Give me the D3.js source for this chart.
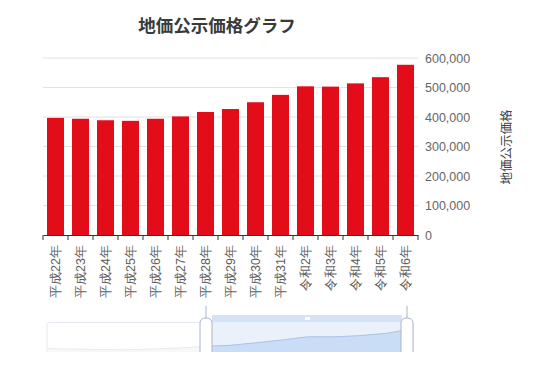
<!DOCTYPE html>
<html>
<head>
<meta charset="utf-8">
<script src="https://cdn.jsdelivr.net/npm/d3@7"></script>
<style>
  body { margin: 0; background: #fff; }
  svg { display: block; font-family: "Noto Sans CJK JP", "Noto Sans", sans-serif; }
</style>
</head>
<body>
<svg id="chart"></svg>
<script>
// データ
const years = ['平成22年','平成23年','平成24年','平成25年','平成26年','平成27年','平成28年','平成29年',
  '平成30年','平成31年','令和2年','令和3年','令和4年','令和5年','令和6年'];
const prices = [397000, 394000, 389000, 387000, 394000, 402000, 417000, 427000,
  450000, 475000, 504000, 503000, 514000, 535000, 577000];
const yTicks = [0, 100000, 200000, 300000, 400000, 500000, 600000];

const width = 539, height = 381;
const plotL = 43, plotR = 418, plotT = 58, plotB = 235;

const svg = d3.select('#chart').attr('width', width).attr('height', height);

// タイトル
svg.append('text')
  .attr('x', 217).attr('y', 32)
  .attr('text-anchor', 'middle')
  .attr('font-size', 17.5).attr('font-weight', 'bold')
  .attr('fill', '#3a3a3a')
  .text('地価公示価格グラフ');

const x = d3.scaleBand().domain(years).range([plotL, plotR])
  .paddingInner(0.32).paddingOuter(0.16);
const y = d3.scaleLinear().domain([0, 600000]).range([plotB, plotT]);

// グリッド
svg.append('g').selectAll('line')
  .data(yTicks.slice(1))
  .join('line')
  .attr('x1', plotL).attr('x2', plotR)
  .attr('y1', d => y(d)).attr('y2', d => y(d))
  .attr('stroke', '#e2e2e2').attr('stroke-width', 1);

// 棒
svg.append('g').selectAll('rect')
  .data(prices)
  .join('rect')
  .attr('x', (d, i) => x(years[i]))
  .attr('y', d => y(d))
  .attr('width', x.bandwidth())
  .attr('height', d => plotB - y(d))
  .attr('fill', '#e30d19');

// Y軸（右）
const yAxis = d3.axisRight(y).tickValues(yTicks).tickSize(0).tickPadding(7)
  .tickFormat(d3.format(','));
const gy = svg.append('g').attr('transform', `translate(${plotR},0)`).call(yAxis);
gy.select('.domain').remove();
gy.selectAll('text').attr('font-size', 12.5).attr('fill', '#666')
  .attr('font-family', '"Liberation Sans", Arial, sans-serif');

svg.append('text')
  .attr('transform', 'translate(511,147) rotate(-90)')
  .attr('text-anchor', 'middle')
  .attr('font-size', 12.5).attr('fill', '#444')
  .text('地価公示価格');

// X軸
const xAxis = d3.axisBottom(x).tickSize(0).tickPadding(0);
const gx = svg.append('g').attr('transform', `translate(0,${plotB})`).call(xAxis);
gx.select('.domain').attr('stroke', '#333');
gx.selectAll('text')
  .attr('transform', 'translate(0,10) rotate(-90)')
  .attr('text-anchor', 'end')
  .attr('dy', '0.35em').attr('x', 0).attr('y', 0)
  .attr('font-size', 12.5).attr('fill', '#606060');
// 区切り目盛り
const step = x.step();
const bounds = years.map(d => x(d) - step * x.paddingInner() / 2).concat([plotR]);
gx.append('g').selectAll('line')
  .data(bounds)
  .join('line')
  .attr('x1', d => d).attr('x2', d => d)
  .attr('y1', 0).attr('y2', 5)
  .attr('stroke', '#333');

// データズーム（下部、切れている）
svg.append('clipPath').attr('id', 'cut')
  .append('rect').attr('x', 0).attr('y', 300).attr('width', width).attr('height', 52);
const dz = svg.append('g').attr('clip-path', 'url(#cut)');
const zl = 47, zr = 413, selL = 212, selR = 402;
const sx = d3.scalePoint().domain(years).range([zl, zr]);
const sy = d3.scaleLinear().domain([0, 600000]).range([393, 326]);

dz.append('rect').attr('x', zl).attr('y', 322.5).attr('width', zr - zl).attr('height', 80)
  .attr('rx', 3).attr('fill', 'none').attr('stroke', '#e3e8f2');

const area = d3.area().x((d, i) => sx(years[i])).y0(400).y1(d => sy(d));
const line = d3.line().x((d, i) => sx(years[i])).y(d => sy(d));

dz.append('clipPath').attr('id', 'unsel')
  .append('rect').attr('x', zl).attr('y', 300).attr('width', selL - zl).attr('height', 100);
dz.append('clipPath').attr('id', 'sel')
  .append('rect').attr('x', selL).attr('y', 300).attr('width', selR - selL).attr('height', 100);

dz.append('path').datum(prices).attr('d', area).attr('fill', '#f7f8fa').attr('clip-path', 'url(#unsel)');
dz.append('path').datum(prices).attr('d', line).attr('fill', 'none').attr('stroke', '#e8eaef').attr('clip-path', 'url(#unsel)');

dz.append('rect').attr('x', selL).attr('y', 315).attr('width', selR - selL).attr('height', 80)
  .attr('fill', '#ebf1fb');
dz.append('rect').attr('x', selL).attr('y', 315).attr('width', selR - selL).attr('height', 7)
  .attr('fill', '#d5e3f7');
dz.append('rect').attr('x', 305).attr('y', 317).attr('width', 5).attr('height', 3).attr('fill', '#fff');
dz.append('path').datum(prices).attr('d', area).attr('fill', '#c9ddf6').attr('clip-path', 'url(#sel)');
dz.append('path').datum(prices).attr('d', line).attr('fill', 'none').attr('stroke', '#a9c3e8').attr('clip-path', 'url(#sel)');

[206, 407].forEach(cx => {
  dz.append('line').attr('x1', cx).attr('x2', cx).attr('y1', 306).attr('y2', 319)
    .attr('stroke', '#a9b4c8');
  dz.append('rect').attr('x', cx - 6).attr('y', 318).attr('width', 12).attr('height', 60)
    .attr('rx', 5).attr('fill', '#fff').attr('stroke', '#aab5ca');
});
</script>
</body>
</html>
